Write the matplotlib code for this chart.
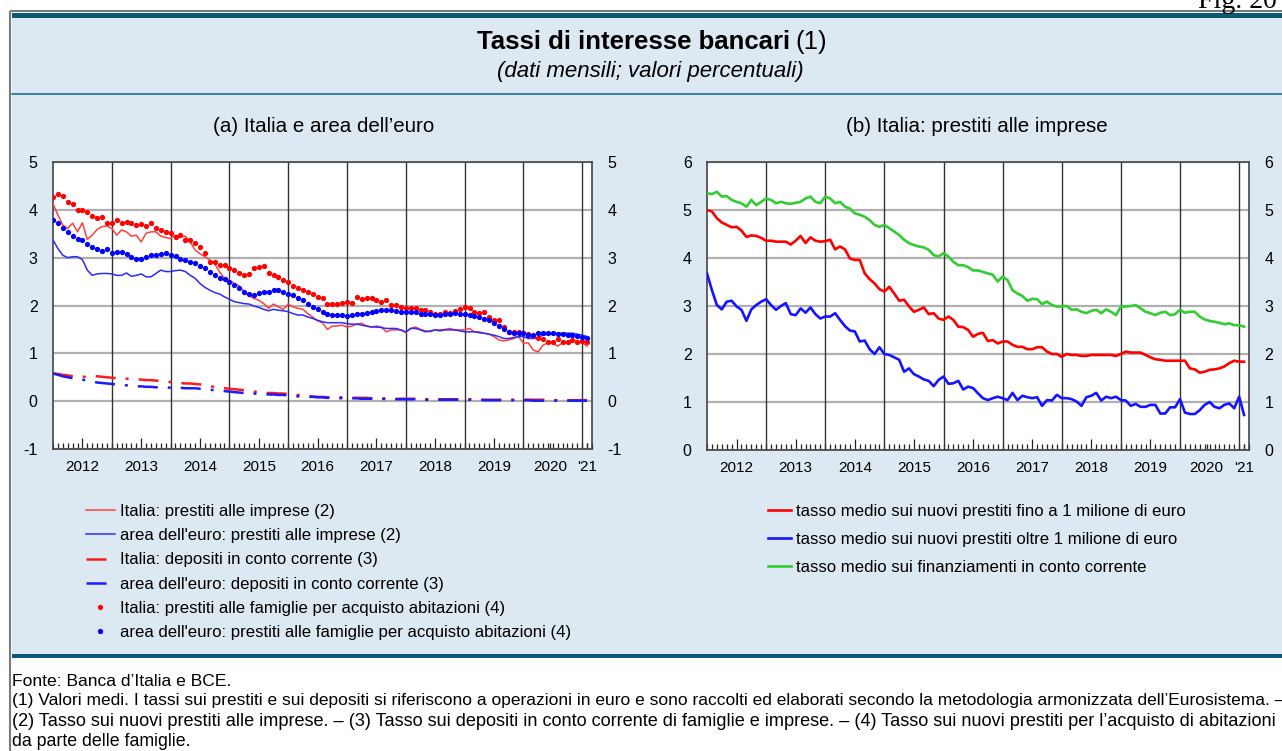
import numpy as np
import pandas as pd
import matplotlib
matplotlib.use("Agg")
import matplotlib.pyplot as plt
from matplotlib.patches import Rectangle

plt.rcParams["font.family"] = ["Liberation Sans", "DejaVu Sans"]
plt.rcParams["axes.unicode_minus"] = False

# monthly observations, Jan 2012 - Feb 2021
months = pd.date_range("2012-01-01", periods=110, freq="MS")
x = np.asarray(months.year + (months.month - 1) / 12.0)

# (a) Italia e area dell'euro
it_imprese = [
    4.13, 3.89, 3.68, 3.61, 3.72, 3.54, 3.73, 3.38, 3.47, 3.59, 3.65, 3.66,
    3.61, 3.47, 3.58, 3.54, 3.45, 3.47, 3.33, 3.51, 3.54, 3.54, 3.45, 3.42,
    3.40, 3.47, 3.44, 3.45, 3.33, 3.16, 3.08, 3.02, 2.95, 2.87, 2.70, 2.57,
    2.53, 2.46, 2.41, 2.29, 2.20, 2.15, 2.11, 2.04, 1.94, 2.03, 1.97, 1.92,
    2.03, 1.97, 1.94, 1.92, 1.83, 1.76, 1.68, 1.64, 1.50, 1.57, 1.57, 1.59,
    1.55, 1.57, 1.61, 1.63, 1.57, 1.55, 1.57, 1.55, 1.45, 1.49, 1.49, 1.49,
    1.43, 1.52, 1.55, 1.50, 1.47, 1.45, 1.49, 1.49, 1.50, 1.52, 1.49, 1.49,
    1.49, 1.52, 1.45, 1.45, 1.42, 1.40, 1.35, 1.28, 1.26, 1.28, 1.31, 1.35,
    1.21, 1.22, 1.07, 1.03, 1.17, 1.22, 1.21, 1.15, 1.22, 1.24, 1.28, 1.24,
    1.22, 1.15,
]
eu_imprese = [
    3.37, 3.19, 3.05, 3.00, 3.02, 3.02, 2.96, 2.74, 2.63, 2.66, 2.67, 2.67,
    2.66, 2.63, 2.63, 2.68, 2.61, 2.63, 2.66, 2.60, 2.60, 2.67, 2.74, 2.71,
    2.71, 2.73, 2.74, 2.71, 2.63, 2.57, 2.46, 2.38, 2.32, 2.27, 2.24, 2.18,
    2.13, 2.08, 2.06, 2.04, 2.03, 1.99, 1.96, 1.92, 1.89, 1.92, 1.90, 1.89,
    1.87, 1.83, 1.80, 1.80, 1.76, 1.73, 1.69, 1.66, 1.64, 1.64, 1.64, 1.64,
    1.62, 1.61, 1.61, 1.59, 1.57, 1.55, 1.55, 1.54, 1.52, 1.52, 1.52, 1.49,
    1.45, 1.52, 1.52, 1.49, 1.45, 1.47, 1.49, 1.47, 1.49, 1.49, 1.49, 1.47,
    1.45, 1.45, 1.45, 1.43, 1.42, 1.40, 1.38, 1.35, 1.31, 1.31, 1.33, 1.35,
    1.35, 1.31, 1.31, 1.33, 1.38, 1.40, 1.40, 1.42, 1.42, 1.42, 1.42, 1.40,
    1.38, 1.35,
]
it_depositi = [
    0.58, 0.57, 0.55, 0.54, 0.52, 0.51, 0.51, 0.51, 0.52, 0.52, 0.51, 0.50,
    0.49, 0.48, 0.47, 0.47, 0.46, 0.46, 0.45, 0.44, 0.44, 0.43, 0.42, 0.41,
    0.40, 0.39, 0.38, 0.37, 0.37, 0.36, 0.35, 0.33, 0.31, 0.30, 0.28, 0.27,
    0.26, 0.25, 0.24, 0.23, 0.22, 0.20, 0.19, 0.18, 0.17, 0.17, 0.16, 0.16,
    0.15, 0.14, 0.13, 0.12, 0.11, 0.10, 0.09, 0.09, 0.08, 0.08, 0.08, 0.08,
    0.08, 0.07, 0.07, 0.07, 0.07, 0.06, 0.06, 0.06, 0.06, 0.05, 0.05, 0.05,
    0.05, 0.05, 0.05, 0.04, 0.04, 0.04, 0.04, 0.04, 0.04, 0.04, 0.04, 0.04,
    0.04, 0.04, 0.03, 0.03, 0.03, 0.03, 0.03, 0.03, 0.03, 0.03, 0.03, 0.03,
    0.03, 0.03, 0.03, 0.03, 0.03, 0.03, 0.02, 0.02, 0.02, 0.02, 0.02, 0.02,
    0.02, 0.02,
]
eu_depositi = [
    0.58, 0.55, 0.52, 0.50, 0.48, 0.46, 0.45, 0.43, 0.41, 0.39, 0.38, 0.37,
    0.36, 0.35, 0.34, 0.33, 0.32, 0.31, 0.31, 0.30, 0.30, 0.29, 0.29, 0.29,
    0.28, 0.28, 0.28, 0.27, 0.27, 0.27, 0.26, 0.25, 0.24, 0.23, 0.22, 0.21,
    0.20, 0.19, 0.18, 0.17, 0.17, 0.16, 0.15, 0.15, 0.14, 0.14, 0.13, 0.13,
    0.12, 0.11, 0.10, 0.10, 0.09, 0.09, 0.08, 0.08, 0.07, 0.07, 0.07, 0.06,
    0.06, 0.06, 0.06, 0.05, 0.05, 0.05, 0.05, 0.05, 0.04, 0.04, 0.04, 0.04,
    0.04, 0.04, 0.04, 0.04, 0.03, 0.03, 0.03, 0.03, 0.03, 0.03, 0.03, 0.03,
    0.03, 0.03, 0.03, 0.03, 0.02, 0.02, 0.02, 0.02, 0.02, 0.02, 0.02, 0.02,
    0.02, 0.02, 0.01, 0.01, 0.01, 0.01, 0.01, 0.01, 0.01, 0.01, 0.01, 0.01,
    0.01, 0.01,
]
it_famiglie = [
    4.27, 4.34, 4.29, 4.17, 4.13, 3.99, 3.99, 3.96, 3.87, 3.82, 3.86, 3.72,
    3.72, 3.79, 3.72, 3.75, 3.72, 3.68, 3.70, 3.66, 3.72, 3.61, 3.58, 3.54,
    3.51, 3.44, 3.47, 3.37, 3.37, 3.30, 3.23, 3.09, 2.91, 2.91, 2.85, 2.85,
    2.78, 2.74, 2.67, 2.64, 2.66, 2.78, 2.80, 2.82, 2.68, 2.64, 2.59, 2.53,
    2.50, 2.41, 2.36, 2.32, 2.29, 2.24, 2.18, 2.15, 2.04, 2.04, 2.04, 2.06,
    2.08, 2.06, 2.18, 2.13, 2.15, 2.15, 2.11, 2.08, 2.11, 2.01, 2.01, 1.97,
    1.94, 1.94, 1.94, 1.90, 1.90, 1.87, 1.83, 1.83, 1.87, 1.85, 1.89, 1.92,
    1.96, 1.94, 1.87, 1.85, 1.87, 1.76, 1.69, 1.69, 1.55, 1.45, 1.45, 1.45,
    1.42, 1.40, 1.36, 1.33, 1.31, 1.24, 1.24, 1.29, 1.24, 1.24, 1.28, 1.24,
    1.26, 1.24,
]
eu_famiglie = [
    3.79, 3.72, 3.61, 3.54, 3.45, 3.40, 3.37, 3.29, 3.23, 3.19, 3.14, 3.19,
    3.09, 3.12, 3.12, 3.07, 3.02, 2.98, 2.98, 3.02, 3.05, 3.05, 3.07, 3.09,
    3.05, 3.03, 2.98, 2.95, 2.91, 2.88, 2.82, 2.78, 2.71, 2.63, 2.58, 2.55,
    2.50, 2.43, 2.36, 2.29, 2.24, 2.22, 2.27, 2.29, 2.29, 2.32, 2.32, 2.29,
    2.25, 2.22, 2.15, 2.11, 2.04, 1.97, 1.92, 1.87, 1.83, 1.80, 1.80, 1.80,
    1.78, 1.80, 1.83, 1.83, 1.85, 1.86, 1.89, 1.90, 1.90, 1.90, 1.89, 1.87,
    1.87, 1.87, 1.86, 1.83, 1.83, 1.82, 1.80, 1.81, 1.83, 1.83, 1.85, 1.83,
    1.82, 1.80, 1.78, 1.75, 1.72, 1.69, 1.64, 1.57, 1.50, 1.45, 1.42, 1.42,
    1.42, 1.38, 1.38, 1.42, 1.43, 1.42, 1.42, 1.40, 1.40, 1.38, 1.38, 1.36,
    1.35, 1.33,
]

# (b) Italia: prestiti alle imprese
fino_1mln = [
    5.00, 4.97, 4.83, 4.74, 4.69, 4.64, 4.65, 4.57, 4.44, 4.47, 4.46, 4.42,
    4.36, 4.36, 4.34, 4.34, 4.34, 4.28, 4.36, 4.46, 4.31, 4.43, 4.36, 4.34,
    4.35, 4.38, 4.18, 4.24, 4.18, 3.99, 3.96, 3.96, 3.68, 3.56, 3.47, 3.35,
    3.30, 3.40, 3.26, 3.11, 3.13, 2.99, 2.88, 2.92, 2.97, 2.83, 2.85, 2.74,
    2.71, 2.78, 2.71, 2.57, 2.56, 2.50, 2.36, 2.42, 2.44, 2.27, 2.29, 2.22,
    2.26, 2.26, 2.19, 2.15, 2.15, 2.10, 2.10, 2.14, 2.14, 2.05, 2.00, 2.00,
    1.94, 2.00, 1.98, 1.98, 1.96, 1.96, 1.98, 1.98, 1.98, 1.98, 1.98, 1.96,
    2.00, 2.05, 2.03, 2.03, 2.03, 1.98, 1.93, 1.89, 1.88, 1.86, 1.86, 1.86,
    1.86, 1.86, 1.70, 1.68, 1.61, 1.63, 1.67, 1.68, 1.70, 1.74, 1.81, 1.86,
    1.84, 1.84,
]
oltre_1mln = [
    3.68, 3.33, 3.02, 2.93, 3.09, 3.11, 2.99, 2.92, 2.69, 2.93, 3.02, 3.09,
    3.14, 3.02, 2.92, 3.00, 3.06, 2.83, 2.81, 2.95, 2.86, 2.97, 2.83, 2.74,
    2.78, 2.78, 2.85, 2.71, 2.58, 2.49, 2.47, 2.26, 2.28, 2.10, 2.00, 2.14,
    2.00, 1.98, 1.93, 1.88, 1.63, 1.70, 1.58, 1.53, 1.47, 1.44, 1.33, 1.46,
    1.53, 1.38, 1.39, 1.44, 1.26, 1.32, 1.29, 1.18, 1.08, 1.04, 1.08, 1.11,
    1.08, 1.04, 1.19, 1.04, 1.13, 1.10, 1.08, 1.10, 0.92, 1.04, 1.03, 1.15,
    1.08, 1.08, 1.06, 1.01, 0.92, 1.10, 1.13, 1.19, 1.03, 1.11, 1.08, 1.11,
    1.04, 1.03, 0.92, 0.96, 0.90, 0.90, 0.94, 0.94, 0.76, 0.76, 0.89, 0.89,
    1.06, 0.78, 0.75, 0.75, 0.83, 0.94, 1.00, 0.90, 0.87, 0.94, 0.97, 0.87,
    1.11, 0.73,
]
conto_corrente = [
    5.35, 5.33, 5.38, 5.28, 5.29, 5.21, 5.17, 5.14, 5.07, 5.21, 5.10, 5.17,
    5.24, 5.21, 5.14, 5.17, 5.14, 5.13, 5.15, 5.17, 5.24, 5.28, 5.17, 5.14,
    5.28, 5.24, 5.14, 5.17, 5.07, 5.03, 4.93, 4.90, 4.86, 4.79, 4.69, 4.65,
    4.69, 4.62, 4.55, 4.48, 4.38, 4.31, 4.27, 4.24, 4.22, 4.17, 4.06, 4.03,
    4.10, 4.03, 3.92, 3.85, 3.85, 3.81, 3.74, 3.74, 3.71, 3.68, 3.65, 3.51,
    3.61, 3.54, 3.33, 3.26, 3.21, 3.11, 3.15, 3.14, 3.04, 3.09, 3.02, 2.99,
    2.99, 3.00, 2.92, 2.93, 2.88, 2.85, 2.90, 2.92, 2.85, 2.93, 2.88, 2.81,
    2.99, 2.99, 3.00, 3.02, 2.95, 2.88, 2.85, 2.81, 2.86, 2.88, 2.81, 2.83,
    2.92, 2.86, 2.88, 2.88, 2.78, 2.72, 2.69, 2.67, 2.65, 2.62, 2.64, 2.60,
    2.60, 2.57,
]

year_labels = ["2012", "2013", "2014", "2015", "2016", "2017", "2018", "2019", "2020", "'21"]
label_pos = [2012.5, 2013.5, 2014.5, 2015.5, 2016.5, 2017.5, 2018.5, 2019.5, 2020.45, 2021.08]

W, H = 1282, 751
fig = plt.figure(figsize=(W / 100, H / 100), dpi=100)

# page frame, drawn in pixel coordinates
bg = fig.add_axes([0, 0, 1, 1], zorder=-10)
bg.set_xlim(0, W)
bg.set_ylim(H, 0)
bg.axis("off")
teal = "#0c5877"
bg.add_patch(Rectangle((10, 11), 1300, 800, fc="none", ec="#7a7a7a", lw=1.5))
bg.add_patch(Rectangle((12, 18), 1300, 637, fc="#dce9f2", ec="none"))
bg.add_patch(Rectangle((12, 13), 1300, 5, fc=teal, ec="none"))
bg.add_patch(Rectangle((12, 654), 1300, 4, fc=teal, ec="none"))
bg.axhline(94, xmin=12 / W, color="#1f6e96", lw=1.2)

bg.text(1198, 8, "Fig. 20", family=["Liberation Serif", "DejaVu Serif"], fontsize=20, va="baseline")
bg.text(790, 42, "Tassi di interesse bancari", ha="right", va="center", fontsize=18.5, fontweight="bold")
bg.text(795, 42, "(1)", ha="left", va="center", fontsize=18.5)
bg.text(650, 72, "(dati mensili; valori percentuali)", ha="center", va="center",
        fontsize=16, style="italic")
bg.text(324, 126, "(a) Italia e area dell\u2019euro", ha="center", va="center", fontsize=14.8)
bg.text(977, 126, "(b) Italia: prestiti alle imprese", ha="center", va="center", fontsize=14.8)

bg.text(12, 681, "Fonte: Banca d\u2019Italia e BCE.", va="center", fontsize=12.6)
bg.text(12, 701, "(1) Valori medi. I tassi sui prestiti e sui depositi si riferiscono a operazioni in euro "
        "e sono raccolti ed elaborati secondo la metodologia armonizzata dell\u2019Eurosistema. \u2013",
        va="center", fontsize=12.5)
bg.text(12, 721, "(2) Tasso sui nuovi prestiti alle imprese. \u2013 (3) Tasso sui depositi in conto corrente "
        "di famiglie e imprese. \u2013 (4) Tasso sui nuovi prestiti per l\u2019acquisto di abitazioni",
        va="center", fontsize=13.1)
bg.text(12, 742, "da parte delle famiglie.", va="center", fontsize=12.8)


def style_axis(ax, ylo, yhi):
    ax.set_xlim(2012, 2021 + 2 / 12)
    ax.set_ylim(ylo, yhi)
    ax.set_yticks(range(ylo, yhi + 1))
    ax.set_axisbelow(True)
    ax.yaxis.grid(True, color="#b0b0b0", lw=1.6)
    ax.tick_params(axis="y", length=0, labelleft=True, labelright=True, labelsize=11.5, pad=11)
    for yr in range(2013, 2022):
        ax.axvline(yr, color="#333333", lw=1.0, zorder=1)
    ax.set_xticks(label_pos, year_labels)
    ax.set_xticks(np.arange(2012, 2021.2, 1 / 12), minor=True)
    ax.tick_params(axis="x", which="major", direction="in", length=8, width=0.9,
                   labelsize=11, pad=8, color="#222222")
    ax.tick_params(axis="x", which="minor", direction="in", length=4.5, width=0.9, color="#222222")
    # only the July ticks are long
    for t in ax.xaxis.get_major_ticks()[-2:]:
        t.tick1line.set_markersize(4.5)
    for s in ax.spines.values():
        s.set_color("#444444")
        s.set_linewidth(1.2)


ax1 = fig.add_axes([53 / W, 1 - 449 / H, 539 / W, 287 / H])
style_axis(ax1, -1, 5)
ax1.plot(x, it_imprese, color="#ff4040", lw=1.1, label="Italia: prestiti alle imprese (2)", zorder=3)
ax1.plot(x, eu_imprese, color="#2b2bff", lw=1.1, label="area dell'euro: prestiti alle imprese (2)", zorder=3)
ax1.plot(x, it_depositi, color="#ff1a1a", lw=1.8, dashes=(8, 4, 1.2, 4),
         label="Italia: depositi in conto corrente (3)", zorder=3)
ax1.plot(x, eu_depositi, color="#1a1aff", lw=1.8, dashes=(8, 4, 1.2, 4),
         label="area dell'euro: depositi in conto corrente (3)", zorder=3)
ax1.plot(x, it_famiglie, ls="none", marker="o", ms=3.8, mec="none", color="#ff0000",
         label="Italia: prestiti alle famiglie per acquisto abitazioni (4)", zorder=4)
ax1.plot(x, eu_famiglie, ls="none", marker="o", ms=3.8, mec="none", color="#0000ff",
         label="area dell'euro: prestiti alle famiglie per acquisto abitazioni (4)", zorder=4)

ax2 = fig.add_axes([707 / W, 1 - 450 / H, 542 / W, 288 / H])
style_axis(ax2, 0, 6)
ax2.plot(x, fino_1mln, color="#ff0000", lw=1.9,
         label="tasso medio sui nuovi prestiti fino a 1 milione di euro", zorder=3)
ax2.plot(x, oltre_1mln, color="#1414ff", lw=1.9,
         label="tasso medio sui nuovi prestiti oltre 1 milione di euro", zorder=3)
ax2.plot(x, conto_corrente, color="#33cc33", lw=1.9,
         label="tasso medio sui finanziamenti in conto corrente", zorder=3)

h, l = ax1.get_legend_handles_labels()
fig.legend(h, l, loc="upper left", bbox_to_anchor=(86 / W, 1 - 504 / H), frameon=False,
           fontsize=12.1, handlelength=1.7, handletextpad=0.3, labelspacing=0.55,
           borderpad=0, borderaxespad=0)
h, l = ax2.get_legend_handles_labels()
fig.legend(h, l, loc="upper left", bbox_to_anchor=(768 / W, 1 - 504 / H), frameon=False,
           fontsize=12.1, handlelength=1.35, handletextpad=0.3, labelspacing=0.78,
           borderpad=0, borderaxespad=0)

fig.savefig("out.png", dpi=100)
